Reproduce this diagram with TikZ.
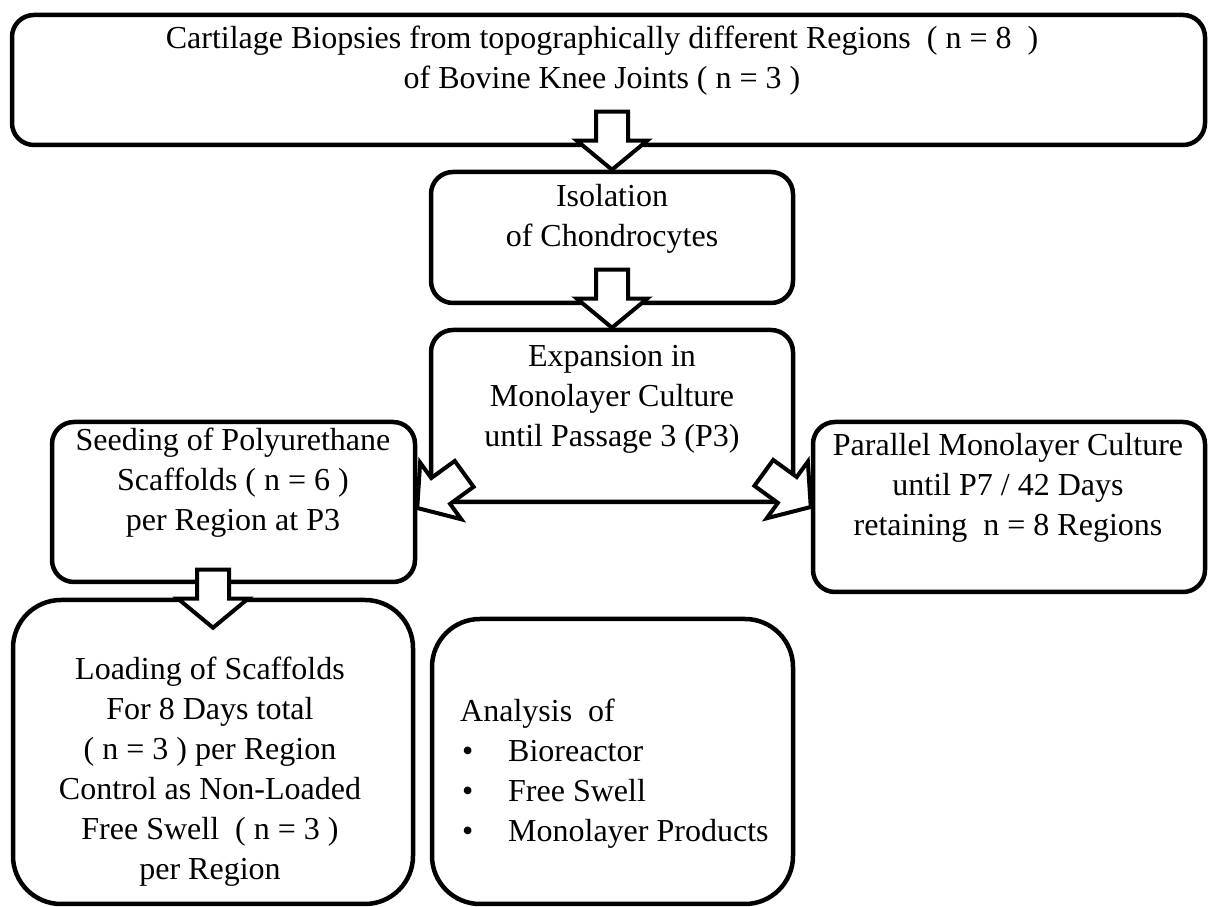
\documentclass[tikz,border=0pt]{standalone}
\usepackage{fontspec}
\setmainfont{Liberation Serif}
\usetikzlibrary{positioning}

\begin{document}
\begin{tikzpicture}[
  x=1pt,y=1pt,
  font=\fontsize{32}{40}\selectfont,
  stage/.style={draw=black,line width=4.5pt,rounded corners=22pt,inner sep=0pt},
  tallstage/.style={stage,rounded corners=48pt},
  txt/.style={align=center,inner sep=0pt},
  barrow/.pic={\draw[line width=4pt,fill=white]
    (0,0)--(-29,35)--(-29,16)--(-58,16)--(-58,-16)--(-29,-16)--(-29,-35)--cycle;}
]
  \useasboundingbox (0,0) rectangle (1208,907);

  \node[stage,minimum width=1193pt,minimum height=130pt] (top) at (608.5,827) {};
  \node[stage,minimum width=362pt,minimum height=131pt] (iso) at (612,669.5) {};
  \node[stage,minimum width=362pt,minimum height=172pt] (exp) at (612,491) {};
  \node[stage,minimum width=363pt,minimum height=160pt] (seed) at (233.5,405) {};
  \node[stage,minimum width=392pt,minimum height=170pt] (par) at (1009,400) {};
  \node[tallstage,minimum width=400pt,minimum height=304pt] (load) at (213,155) {};
  \node[tallstage,minimum width=361pt,minimum height=285pt] (ana) at (612.5,145.5) {};

  \pic[rotate=-90] at (iso.north) {barrow};
  \pic[rotate=-90] at (exp.north) {barrow};
  \pic[rotate=-90] at ([yshift=-30pt]load.north) {barrow};
  \pic[rotate=216] at ([yshift=-6pt]seed.east) {barrow};
  \pic[rotate=-36] at (par.west) {barrow};

  \node[txt] (toptxt) at (602,846) {Cartilage Biopsies from topographically different Regions\ \ ( n = 8\ \ )\\
    of Bovine Knee Joints ( n = 3 )};
  \node[txt] (isotxt) at (612,688.5) {Isolation\\ of Chondrocytes};
  \node[txt] (exptxt) at (612,508) {Expansion in\\ Monolayer Culture\\ until Passage 3 (P3)};
  \node[txt] (seedtxt) at (233,424) {Seeding of Polyurethane\\ Scaffolds ( n = 6 )\\ per Region at P3};
  \node[txt] (partxt) at (1008,419) {Parallel Monolayer Culture\\ until P7 / 42 Days\\ retaining\ \ n = 8 Regions};
  \node[txt] (loadtxt) at (210,135.5) {Loading of Scaffolds\\ For 8 Days total\\ ( n = 3 ) per Region\\
    Control as Non-Loaded\\ Free Swell\ \ ( n = 3 )\\ per Region};
  \node[txt,align=left,anchor=west] (anatxt) at (460,133) {Analysis\ \ of\\
    \makebox[48pt][l]{\hspace{2pt}\textbullet}Bioreactor\\
    \makebox[48pt][l]{\hspace{2pt}\textbullet}Free Swell\\
    \makebox[48pt][l]{\hspace{2pt}\textbullet}Monolayer Products};
\end{tikzpicture}
\end{document}
